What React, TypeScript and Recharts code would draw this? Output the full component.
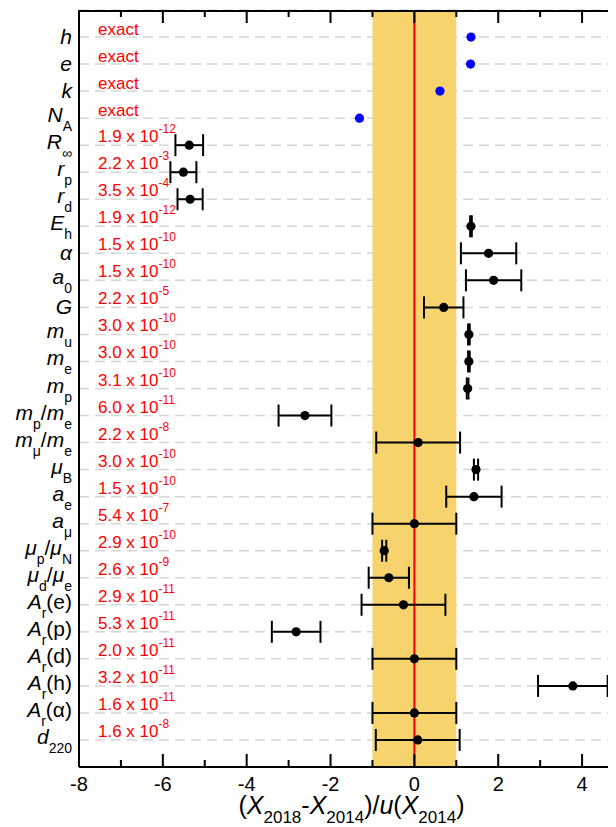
import React from 'react';
import {
  ScatterChart,
  Scatter,
  XAxis,
  YAxis,
  CartesianGrid,
  ErrorBar,
  ReferenceArea,
  ReferenceLine,
} from 'recharts';

const FONT = '"Liberation Sans", Arial, Helvetica, sans-serif';

// Constant labels: segments of [text, style]; i = italic main, n = upright main, s = subscript
const constantLabels: [string, string][][] = [
  [['h', 'i']],
  [['e', 'i']],
  [['k', 'i']],
  [['N', 'i'], ['A', 's']],
  [['R', 'i'], ['∞', 's']],
  [['r', 'i'], ['p', 's']],
  [['r', 'i'], ['d', 's']],
  [['E', 'i'], ['h', 's']],
  [['α', 'i']],
  [['a', 'i'], ['0', 's']],
  [['G', 'i']],
  [['m', 'i'], ['u', 's']],
  [['m', 'i'], ['e', 's']],
  [['m', 'i'], ['p', 's']],
  [['m', 'i'], ['p', 's'], ['/', 'n'], ['m', 'i'], ['e', 's']],
  [['m', 'i'], ['μ', 's'], ['/', 'n'], ['m', 'i'], ['e', 's']],
  [['μ', 'i'], ['B', 's']],
  [['a', 'i'], ['e', 's']],
  [['a', 'i'], ['μ', 's']],
  [['μ', 'i'], ['p', 's'], ['/', 'n'], ['μ', 'i'], ['N', 's']],
  [['μ', 'i'], ['d', 's'], ['/', 'n'], ['μ', 'i'], ['e', 's']],
  [['A', 'i'], ['r', 's'], ['(e)', 'n']],
  [['A', 'i'], ['r', 's'], ['(p)', 'n']],
  [['A', 'i'], ['r', 's'], ['(d)', 'n']],
  [['A', 'i'], ['r', 's'], ['(h)', 'n']],
  [['A', 'i'], ['r', 's'], ['(α)', 'n']],
  [['d', 'i'], ['220', 's']],
];

// Relative standard uncertainty of 2018 value (mantissa, exponent); null = exact
const uncMantissa: (string | null)[] = [
  null, null, null, null, '1.9', '2.2', '3.5', '1.9', '1.5', '1.5', '2.2', '3.0', '3.0', '3.1',
  '6.0', '2.2', '3.0', '1.5', '5.4', '2.9', '2.6', '2.9', '5.3', '2.0', '3.2', '1.6', '1.6',
];
const uncExponent: (string | null)[] = [
  null, null, null, null, '-12', '-3', '-4', '-12', '-10', '-10', '-5', '-10', '-10', '-10',
  '-11', '-8', '-10', '-10', '-7', '-10', '-9', '-11', '-11', '-11', '-11', '-11', '-8',
];

// Exact constants (rows 1-4): normalized shift
const exactShift = [1.35, 1.34, 0.61, -1.31];

// Measured constants (rows 5-27): normalized shift and its uncertainty
const measuredShift = [
  -5.37, -5.51, -5.35, 1.35, 1.77, 1.89, 0.7, 1.3, 1.3, 1.27, -2.61, 0.09, 1.47, 1.42, 0.0,
  -0.72, -0.61, -0.26, -2.82, 0.0, 3.78, 0.0, 0.08,
];
const measuredErr = [
  0.33, 0.31, 0.3, 0.02, 0.66, 0.66, 0.47, 0.02, 0.02, 0.02, 0.63, 1.0, 0.05, 0.66, 1.0, 0.05,
  0.48, 1.0, 0.58, 1.0, 0.83, 1.0, 1.0,
];

const xTicks = [-8, -7, -6, -5, -4, -3, -2, -1, 0, 1, 2, 3, 4, 5];
const rows = constantLabels.map((_, i) => i + 1);

const exactData = exactShift.map((x, i) => ({ x, y: i + 1 }));
const measuredData = measuredShift.map((x, i) => ({ x, y: i + 5, err: measuredErr[i] }));

const CHART_W = 620;
const CHART_H = 830;
const TOP_M = 2;
const BOTTOM_AXIS_H = 71;
const PLOT_H = CHART_H - TOP_M - BOTTOM_AXIS_H;

const BottomTick = (props: any) => {
  const { x, y, payload } = props;
  const v = payload.value;
  const major = v % 2 === 0;
  const len = major ? 13 : 7;
  const top = Number(y) - PLOT_H;
  return (
    <g>
      <rect x={x - 1} y={y - len} width={2} height={len} fill="#000" />
      <rect x={x - 1} y={top} width={2} height={len} fill="#000" />
      {major && (
        <text x={x} y={y + 24} textAnchor="middle" fontSize={20} fontFamily={FONT} fill="#000">
          {String(v)}
        </text>
      )}
    </g>
  );
};

const YTick = (props: any) => {
  const { x, y, payload } = props;
  const idx = payload.value - 1;
  const segs = constantLabels[idx];
  if (!segs) return null;
  const hasSub = segs.some((s) => s[1] === 's');
  const base = y + (hasSub ? 4 : 7);
  let cur = 0;
  const mant = uncMantissa[idx];
  const expo = uncExponent[idx];
  return (
    <g>
      <text x={x - 7} y={base} textAnchor="end" fontFamily={FONT} fill="#000">
        {segs.map((s, k) => {
          const target = s[1] === 's' ? 9 : 0;
          const dy = target - cur;
          cur = target;
          return (
            <tspan
              key={k}
              dy={dy}
              fontSize={s[1] === 's' ? 14 : 21}
              fontStyle={s[1] === 'i' ? 'italic' : 'normal'}
            >
              {s[0]}
            </tspan>
          );
        })}
      </text>
      {mant === null ? (
        <text x={x + 19} y={y - 2.5} fill="#ff0000" fontSize={17} fontFamily={FONT}>
          exact
        </text>
      ) : (
        <text x={x + 19} y={y - 3} fill="#ff0000" fontSize={17} fontFamily={FONT}>
          {mant} x 10
          <tspan dy={-9} fontSize={12}>
            {expo}
          </tspan>
        </text>
      )}
    </g>
  );
};

const XTitle = (props: any) => {
  const vb = props.viewBox || {};
  const cx = vb.x + vb.width / 2;
  const yb = vb.y + 47;
  const parts: [string, string][] = [
    ['(', 'n'], ['X', 'i'], ['2018', 's'], ['-', 'n'], ['X', 'i'], ['2014', 's'], [')/', 'n'],
    ['u', 'i'], ['(', 'n'], ['X', 'i'], ['2014', 's'], [')', 'n'],
  ];
  let cur = 0;
  return (
    <text x={cx} y={yb} textAnchor="middle" fontFamily={FONT} fill="#000">
      {parts.map((s, k) => {
        const target = s[1] === 's' ? 9 : 0;
        const dy = target - cur;
        cur = target;
        return (
          <tspan
            key={k}
            dy={dy}
            fontSize={s[1] === 's' ? 17 : 25}
            fontStyle={s[1] === 'i' ? 'italic' : 'normal'}
          >
            {s[0]}
          </tspan>
        );
      })}
    </text>
  );
};

const Dot = (color: string) => (p: any) => <circle cx={p.cx} cy={p.cy} r={4.6} fill={color} />;

export default function App() {
  return (
    <div style={{ width: CHART_W, height: CHART_H }}>
      <style>{'html,body{overflow:hidden}'}</style>
      <ScatterChart width={CHART_W} height={CHART_H} margin={{ top: TOP_M, right: 4, bottom: 0, left: 0 }}>
        <CartesianGrid
          horizontal
          vertical={false}
          stroke="#d6d6d6"
          strokeWidth={1.5}
          strokeDasharray="10 6"
        />
        <XAxis
          type="number"
          dataKey="x"
          domain={[-8, 5]}
          ticks={xTicks}
          interval={0}
          allowDataOverflow
          height={BOTTOM_AXIS_H}
          tickSize={0}
          tickMargin={0}
          tickLine={false}
          axisLine={{ stroke: '#000', strokeWidth: 2 }}
          tick={(p: any) => <BottomTick {...p} />}
          label={(p: any) => <XTitle {...p} />}
        />
        <YAxis
          type="number"
          dataKey="y"
          domain={[0, 28]}
          reversed
          ticks={rows}
          interval={0}
          width={71}
          tickSize={0}
          tickMargin={0}
          tickLine={false}
          axisLine={{ stroke: '#000', strokeWidth: 2 }}
          tick={(p: any) => <YTick {...p} />}
        />
        <ReferenceArea x1={-1} x2={1} fill="#F6D36C" fillOpacity={1} stroke="none" />
        <ReferenceLine x={0} stroke="#ff0000" strokeWidth={2} />
        <ReferenceArea y1={0} y2={0.075} fill="#000" fillOpacity={1} stroke="none" />
        <Scatter data={measuredData} isAnimationActive={false} shape={Dot('#000')}>
          <ErrorBar dataKey="err" direction="x" width={11} strokeWidth={2} stroke="#000" isAnimationActive={false} />
        </Scatter>
        <Scatter data={exactData} isAnimationActive={false} shape={Dot('#0000ff')} />
      </ScatterChart>
    </div>
  );
}
